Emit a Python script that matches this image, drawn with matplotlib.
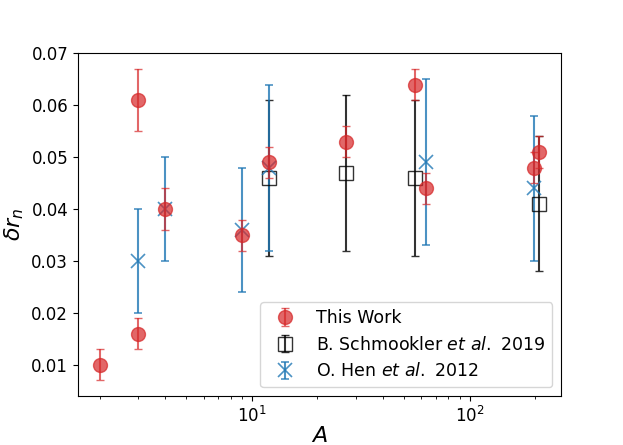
import matplotlib.pyplot as plt

# This work
A_tw = [2, 3, 3, 4, 9, 12, 27, 56, 63, 197, 208]
dr_tw = [0.010, 0.061, 0.016, 0.040, 0.035, 0.049, 0.053, 0.064, 0.044, 0.048, 0.051]
err_tw = [0.003, 0.006, 0.003, 0.004, 0.003, 0.003, 0.003, 0.003, 0.003, 0.003, 0.003]

# B. Schmookler et al. 2019
A_bs = [12, 27, 56, 208]
dr_bs = [0.046, 0.047, 0.046, 0.041]
err_bs = [0.015, 0.015, 0.015, 0.013]

# O. Hen et al. 2012
A_oh = [3, 4, 9, 12, 63, 197]
dr_oh = [0.030, 0.040, 0.036, 0.048, 0.049, 0.044]
err_oh = [0.010, 0.010, 0.012, 0.016, 0.016, 0.014]

fig, ax = plt.subplots(figsize=(6.23, 4.45), dpi=100)

ax.errorbar(A_tw, dr_tw, yerr=err_tw, fmt='o', color='tab:red', alpha=0.7,
            markersize=10, capsize=3, label='This Work', zorder=3)
ax.errorbar(A_bs, dr_bs, yerr=err_bs, fmt='s', color='k', mfc='none', alpha=0.8,
            markersize=10, capsize=3, label=r'B. Schmookler $et\ al.$ 2019', zorder=2)
ax.errorbar(A_oh, dr_oh, yerr=err_oh, fmt='x', color='tab:blue', alpha=0.8,
            markersize=10, markeredgewidth=1.2, capsize=3,
            label=r'O. Hen $et\ al.$ 2012', zorder=2)

ax.set_xscale('log')
ax.set_xlabel(r'$A$', fontsize=16, labelpad=0)
ax.set_ylabel(r'$\delta r_n$', fontsize=16)
ax.tick_params(labelsize=12)
ax.legend(loc='lower right', fontsize=12.5)

plt.savefig('out.png', dpi=100)
